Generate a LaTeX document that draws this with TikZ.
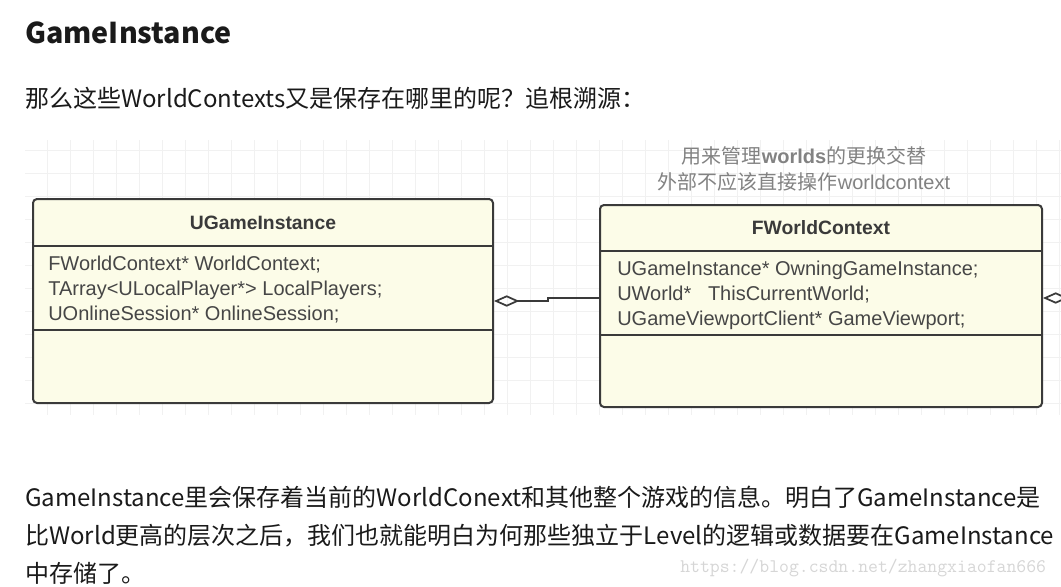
\documentclass[tikz,border=0pt]{standalone}
\usepackage{fontspec}
\setmainfont{Noto Sans CJK SC}
\newfontfamily\umlfont{Liberation Sans}
\usetikzlibrary{positioning,arrows.meta}

\definecolor{boxfill}{RGB}{252,252,232}
\definecolor{boxline}{RGB}{58,58,58}
\definecolor{gridline}{RGB}{241,241,241}
\definecolor{membertext}{RGB}{70,70,70}
\definecolor{notetext}{RGB}{130,130,130}
\definecolor{bodytext}{RGB}{26,26,26}
\definecolor{marktext}{RGB}{214,214,214}

\begin{document}
\begin{tikzpicture}[x=0.75pt,y=-0.75pt,
                    class box/.style={draw=boxline,line width=1.5pt,rounded corners=3pt,fill=boxfill,inner sep=0pt},
                    class name/.style={font=\umlfont\bfseries\fontsize{14.5}{17}\selectfont,text=boxline},
                    member/.style={anchor=base west,inner sep=0pt,font=\umlfont\fontsize{15}{18}\selectfont,text=membertext},
                    body text/.style={anchor=base west,inner sep=0pt,font=\fontsize{18}{22}\selectfont,text=bodytext},
                    note/.style={inner sep=0pt,font=\fontsize{15}{18}\selectfont,text=notetext},
                    agg/.style={draw=boxline,line width=1.3pt,{Diamond[open,length=19pt,width=8.5pt]}-}
                   ]
   \useasboundingbox[fill=white] (0,0) rectangle (1061,586);
   \clip (0,0) rectangle (1061,586);

   % text above the diagram
   \node[body text,font=\bfseries\fontsize{21.5}{26}\selectfont] (title) at (25,43) {GameInstance};
   \node[body text] (intro) at (25,107) {那么这些WorldContexts又是保存在哪里的呢？追根溯源：};

   % grid paper
   \begin{scope}
     \clip (25,140) rectangle (1061,415);
     \foreach \gx in {0,...,45}
       \draw[gridline,line width=0.6pt] (24+23*\gx,140) -- (24+23*\gx,415);
     \foreach \gy in {0,...,11}
       \draw[gridline,line width=0.6pt] (25,150+23*\gy) -- (1061,150+23*\gy);
   \end{scope}

   % classes
   \node[class box,minimum width=460*0.75pt,minimum height=204*0.75pt] (ugi) at (263,301) {};
   \node[class box,minimum width=442*0.75pt,minimum height=202*0.75pt] (fwc) at (821,306) {};
   \draw[boxline,line width=1.5pt] (ugi.west |- 0,246) -- (ugi.east |- 0,246)
                                   (ugi.west |- 0,330) -- (ugi.east |- 0,330);
   \draw[boxline,line width=1.5pt] (fwc.west |- 0,251) -- (fwc.east |- 0,251)
                                   (fwc.west |- 0,335) -- (fwc.east |- 0,335);

   \node[class name] (ugi-name) at (263,223) {UGameInstance};
   \node[member] (ugi-m1) at (48,270) {FWorldContext* WorldContext;};
   \node[member] (ugi-m2) at (48,295) {TArray<ULocalPlayer*> LocalPlayers;};
   \node[member] (ugi-m3) at (48,320) {UOnlineSession* OnlineSession;};

   \node[class name] (fwc-name) at (821,228) {FWorldContext};
   \node[member] (fwc-m1) at (617,275) {UGameInstance* OwningGameInstance;};
   \node[member] (fwc-m2) at (617,300) {UWorld*\ \ \ ThisCurrentWorld;};
   \node[member] (fwc-m3) at (617,325) {UGameViewportClient* GameViewport;};

   \node[note,align=center] (fwc-note) at (804,169)
     {用来管理{\umlfont\bfseries worlds}的更换交替\\[1pt]外部不应该直接操作{\umlfont worldcontext}};

   % aggregations
   \coordinate (jog) at (548,301);
   \coordinate (offpage) at (1100,298);
   \draw[agg] (ugi.east |- jog) -- (jog) -- ++(0,-3) -- (fwc.west |- 0,298);
   \draw[agg] (fwc.east |- offpage) -- (offpage);

   % text below the diagram
   \node[body text] (para1) at (25,506) {GameInstance里会保存着当前的WorldConext和其他整个游戏的信息。明白了GameInstance是};
   \node[body text] (para2) at (25,544) {比World更高的层次之后，我们也就能明白为何那些独立于Level的逻辑或数据要在GameInstance};
   \node[body text] (para3) at (25,582) {中存储了。};

   \node[anchor=base west,inner sep=0pt,font=\ttfamily\fontsize{14.4}{16}\selectfont,text=marktext] (mark) at (680,572) {https://blog.csdn.net/zhangxiaofan666};
 \end{tikzpicture}
\end{document}
